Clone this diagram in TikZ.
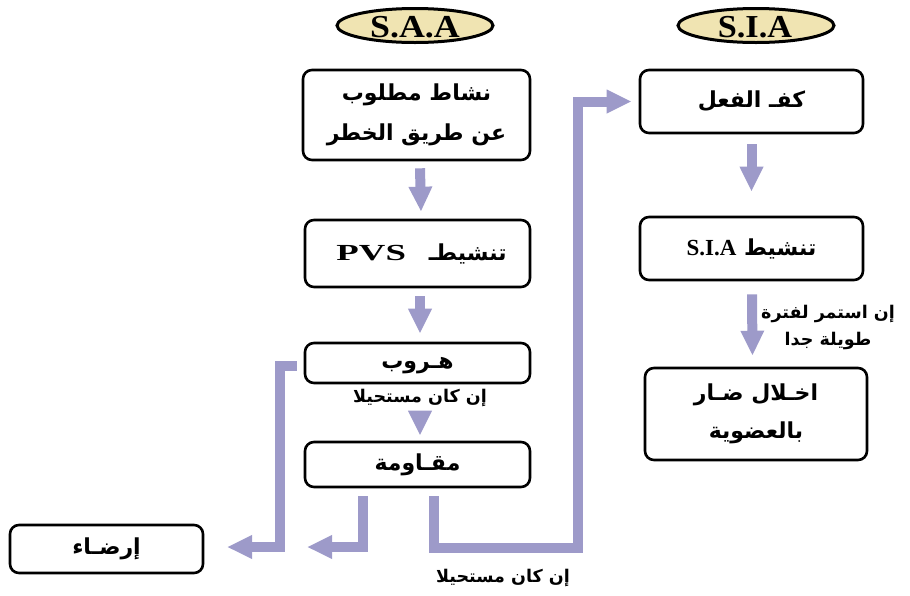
\documentclass[tikz,border=0pt]{standalone}
\usepackage{fontspec}
\usepackage{graphicx}
\usetikzlibrary{arrows.meta,shapes.geometric}
\TeXXeTstate=1
\newfontfamily\arabicfont[Script=Arabic]{DejaVu Sans}
\newfontfamily\latinfont{Liberation Serif}
% Arabic phrase, bold, right to left
\newcommand\ar[1]{{\arabicfont\bfseries\beginR #1\endR}}
% Latin abbreviation in bold serif
\newcommand\lat[1]{{\latinfont\bfseries #1}}

\definecolor{flowlav}{RGB}{157,154,201}
\definecolor{badgefill}{RGB}{240,228,178}

\tikzset{
  stepbox/.style={draw=black, line width=2.6pt, rounded corners=9pt, fill=white,
    inner sep=0pt, align=center, font=\fontsize{22}{40}\selectfont},
  badge/.style={ellipse, draw=black, line width=3pt, fill=badgefill, inner sep=0pt,
    minimum width=156pt, minimum height=34pt},
  badgetext/.style={inner sep=0pt, font=\fontsize{32}{32}\selectfont},
  flow/.style={draw=flowlav, line width=10pt, line join=miter,
    -{Triangle[width=22pt,length=25pt]}},
  note/.style={inner sep=0pt, align=center, font=\fontsize{17.5}{27}\selectfont},
}

\begin{document}
\begin{tikzpicture}[x=1pt,y=-1pt]
\useasboundingbox (0,0) rectangle (910,595);

% column headings
\node[badge] (saa) at (415,25.5) {};
\node[badgetext] (saatxt) at (415,27.5) {\scalebox{1.12}[1]{\lat{S.A.A}}};
\node[badge] (sia) at (756,25.5) {};
\node[badgetext] (siatxt) at (755,27) {\scalebox{1.07}[1]{\lat{S.I.A}}};

% left column
\node[stepbox, minimum width=227pt, minimum height=90pt] (b1) at (416.5,115)
  {\ar{نشاط مطلوب}\\\ar{عن طريق الخطر}};
\node[stepbox, minimum width=225pt, minimum height=67pt] (b2) at (417.5,253.5)
  {\hspace*{8pt}\ar{تنشيطـ\ \ \ \beginL\scalebox{1.6}[1]{\lat{\fontsize{23}{23}\selectfont PVS}}\endL{}}};
\node[stepbox, minimum width=225pt, minimum height=40pt] (b3) at (417.5,363)
  {\raisebox{-3pt}[\height][\depth]{\ar{هـروب}}};
\node[stepbox, minimum width=225pt, minimum height=45pt] (b4) at (417.5,464.5)
  {\ar{مقـاومة}};
\node[stepbox, minimum width=193pt, minimum height=48pt] (b5) at (106.5,549)
  {\ar{إرضـاء}};

% right column
\node[stepbox, minimum width=223pt, minimum height=63pt] (b6) at (751.5,101.5)
  {\ar{كفـ الفعل}};
\node[stepbox, minimum width=223pt, minimum height=63pt] (b7) at (751.5,248.5)
  {\ar{تنشيط \beginL\lat{\fontsize{23}{23}\selectfont S.I.A}\endL{}}};
\node[stepbox, minimum width=222pt, minimum height=92pt, font=\fontsize{22}{38}\selectfont] (b8) at (756,414)
  {\ar{اخـلال ضـار}\\\ar{بالعضوية}};

% connector labels
\node[note] (n1) at (420,398) {\ar{إن كان مستحيلا}};
\node[note] (n2) at (503,578) {\ar{إن كان مستحيلا}};
\node[note] (n3) at (828,327) {\ar{إن استمر لفترة}\\\ar{طويلة جدا}};

% turning points of the elbow connectors
\coordinate (fleeTip) at (227,547);
\coordinate (resistTip) at (307,547);
\coordinate (stopTurn) at (578,548);

% straight arrows
\draw[flow] ([xshift=3.5pt,yshift=-7pt]b1.south) -- ([xshift=3.5pt,yshift=7pt]b2.north);
\draw[flow] ([xshift=2.5pt,yshift=-8pt]b2.south) -- ([xshift=2.5pt,yshift=8pt]b3.north);
\draw[flow] ([xshift=2.5pt,yshift=-27pt]b3.south) -- ([xshift=2.5pt,yshift=5pt]b4.north);
\draw[flow] ([yshift=-10pt]b6.south) -- ([yshift=24pt]b7.north);
\draw[flow] ([xshift=0.5pt,yshift=-13pt]b7.south) -- ([xshift=-3.5pt,yshift=11pt]b8.north);

% elbow connectors
\draw[flow] ([xshift=-7pt,yshift=-3pt]b3.west) -- ++(-17,0) |- (fleeTip);
\draw[flow] ([xshift=-55pt,yshift=-8pt]b4.south) |- (resistTip);
\draw[flow] ([xshift=16pt,yshift=-8pt]b4.south) |- (stopTurn) |- ([xshift=-7pt]b6.west);
\end{tikzpicture}
\end{document}
